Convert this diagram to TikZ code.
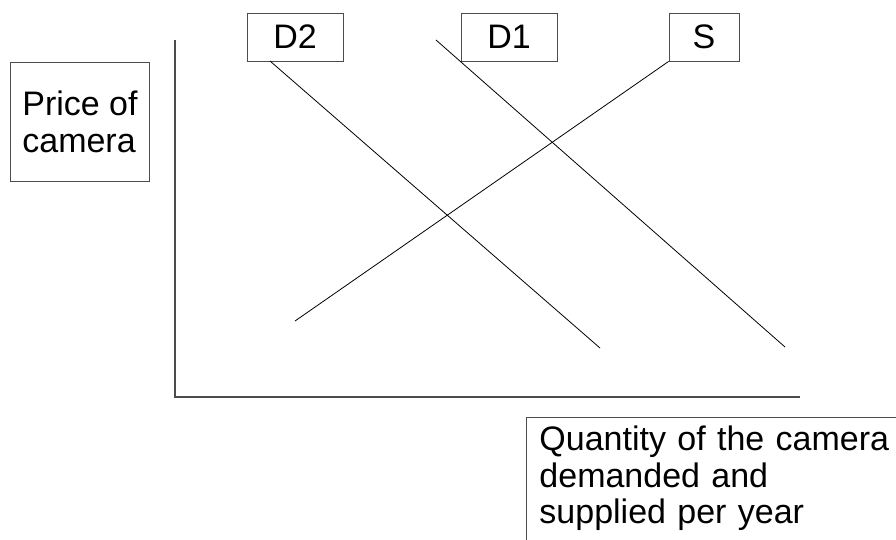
\documentclass[tikz,border=0pt]{standalone}
\usepackage{fontspec}
\setmainfont{Liberation Sans}
\begin{document}
\begin{tikzpicture}[x=1pt,y=-1pt,
  lbl/.style={draw=black!70,line width=0.9pt,inner sep=0pt,font=\fontsize{34}{36.5}\selectfont},
  curve/.style={draw=black,line width=0.8pt},
  axis/.style={draw=black!70,line width=1.2pt}]
\useasboundingbox (0,0) rectangle (896,539);
\clip (0,0) rectangle (896,539);
% axes
\coordinate (ytop) at (175,40);
\coordinate (orig) at (175,397);
\coordinate (xend) at (800,397);
\draw[axis] (ytop) -- (orig) -- (xend);
% boxes
\node[lbl,minimum width=139,minimum height=119,align=left] (price) at (80,122) {Price of\\camera};
\node[lbl,minimum width=96,minimum height=48] (d2) at (295,37) {D2};
\node[lbl,minimum width=96,minimum height=48] (d1) at (509,37) {D1};
\node[lbl,minimum width=70,minimum height=48] (s) at (704,37) {S};
\node[lbl,anchor=north west,align=left,text width=440pt,inner xsep=13pt,inner ysep=8.5pt] (qty) at (526,417) {Quantity of the camera\\demanded and\\supplied per year\rule[-40pt]{0pt}{40pt}};
% curves
\coordinate (d2top) at (270,61);
\coordinate (d2bot) at (600,348);
\coordinate (d1top) at (436,40);
\coordinate (d1bot) at (785,347);
\coordinate (sbot) at (295,321);
\draw[curve] (d2top) -- (d2bot);
\draw[curve] (d1top) -- (d1bot);
\draw[curve] (sbot) -- (s.south west);
\end{tikzpicture}
\end{document}
